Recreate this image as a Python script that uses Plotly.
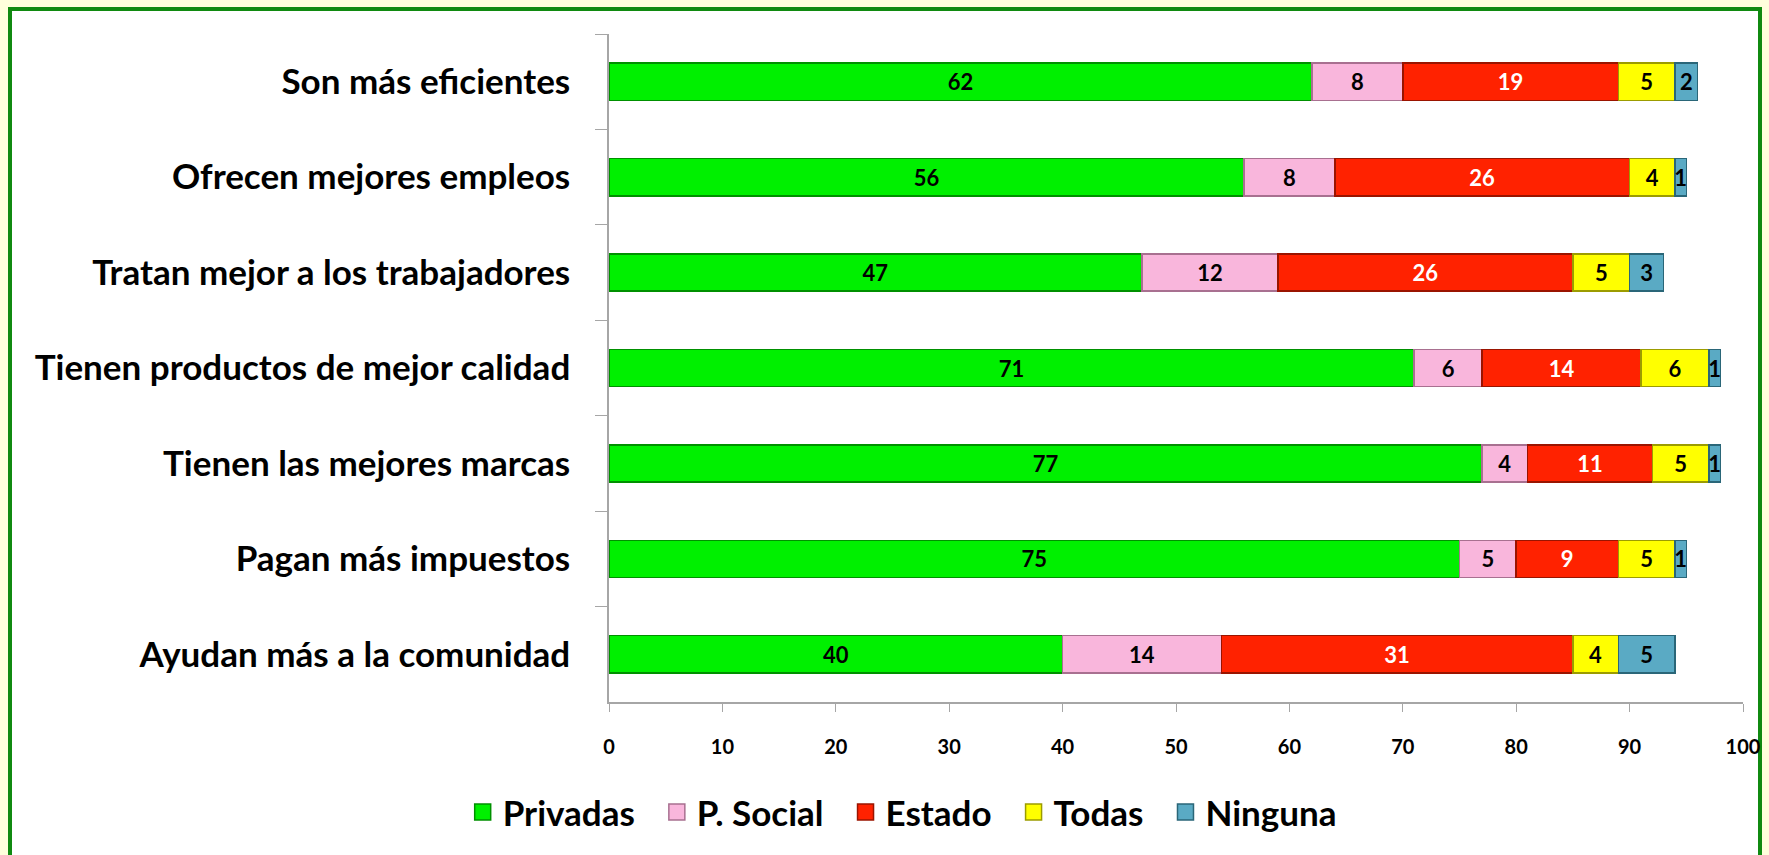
import plotly.graph_objects as go

# Categories, top to bottom as in the chart
categories = [
    "Son más eficientes",
    "Ofrecen mejores empleos",
    "Tratan mejor a los trabajadores",
    "Tienen productos de mejor calidad",
    "Tienen las mejores marcas",
    "Pagan más impuestos",
    "Ayudan más a la comunidad",
]

privadas = [62, 56, 47, 71, 77, 75, 40]
p_social = [8, 8, 12, 6, 4, 5, 14]
estado = [19, 26, 26, 14, 11, 9, 31]
todas = [5, 4, 5, 6, 5, 5, 4]
ninguna = [2, 1, 3, 1, 1, 1, 5]

series_names = ["Privadas", "P. Social", "Estado", "Todas", "Ninguna"]
x_ticks = [0, 10, 20, 30, 40, 50, 60, 70, 80, 90, 100]

series = [
    (series_names[0], privadas, "#00f000", "#009000", "black"),
    (series_names[1], p_social, "#f9b6dc", "#a87090", "black"),
    (series_names[2], estado, "#ff2200", "#9a1400", "white"),
    (series_names[3], todas, "#ffff00", "#9c9c00", "black"),
    (series_names[4], ninguna, "#5aaac4", "#2a6678", "black"),
]

FONT = "Lato"
NBSP = "\u00a0"

fig = go.Figure()
for name, vals, color, edge, txt in series:
    fig.add_trace(go.Bar(
        y=categories,
        x=vals,
        name=name,
        orientation="h",
        showlegend=False,
        marker=dict(color=color, line=dict(color=edge, width=1.5)),
        text=[str(v) for v in vals],
        textposition="inside",
        insidetextanchor="middle",
        textangle=0,
        constraintext="none",
        textfont=dict(family=FONT, size=22, color=txt, weight="bold"),
    ))

# legend entries with bigger square swatches
for i, (name, vals, color, edge, txt) in enumerate(series):
    pad = NBSP * 2 if i < len(series) - 1 else ""
    fig.add_trace(go.Scatter(
        x=[None], y=[None],
        mode="markers",
        name=name + pad,
        marker=dict(symbol="square", size=16, color=color,
                    line=dict(color=edge, width=1.5)),
        hoverinfo="skip",
    ))

fig.update_layout(
    barmode="stack",
    bargap=0.61,
    width=1769,
    height=855,
    paper_bgcolor="#ffffdc",
    plot_bgcolor="white",
    margin=dict(l=609, r=26, t=34, b=153, autoexpand=False),
    font=dict(family=FONT, color="black"),
    showlegend=True,
    legend=dict(
        orientation="h",
        traceorder="normal",
        xref="container", yref="container",
        x=0.51, y=0.05,
        xanchor="center", yanchor="middle",
        font=dict(family=FONT, size=35, color="black", weight="bold"),
        itemwidth=30,
        itemsizing="trace",
        bgcolor="rgba(0,0,0,0)",
    ),
    xaxis=dict(
        range=[0, 100],
        tickvals=x_ticks,
        ticktext=[str(t) for t in x_ticks],
        showgrid=False,
        zeroline=False,
        showline=True,
        automargin=False,
        linecolor="#a6a6a6",
        linewidth=1.5,
        ticks="outside",
        ticklen=8,
        tickcolor="#a6a6a6",
        tickfont=dict(family=FONT, size=20, color="black", weight="bold"),
        ticklabelstandoff=18,
    ),
    yaxis=dict(
        autorange="reversed",
        showgrid=False,
        showline=True,
        automargin=False,
        linecolor="#a6a6a6",
        linewidth=1.5,
        ticks="outside",
        tickson="boundaries",
        ticklen=12,
        tickcolor="#a6a6a6",
        tickfont=dict(family=FONT, size=35, color="black", weight="bold"),
        ticklabelstandoff=30,
    ),
    shapes=[dict(
        type="rect", xref="paper", yref="paper",
        x0=(10 - 609) / 1134, x1=(1760 - 609) / 1134,
        y0=-0.4, y1=(702 - 9) / 668,
        fillcolor="white",
        line=dict(color="#108a10", width=4),
        layer="below",
    )],
)

# drop the browser's default page margin so the figure sits at 0,0
fig.write_html(
    "out.html",
    config={"displayModeBar": False},
    post_script="document.body.style.margin='0';",
)
